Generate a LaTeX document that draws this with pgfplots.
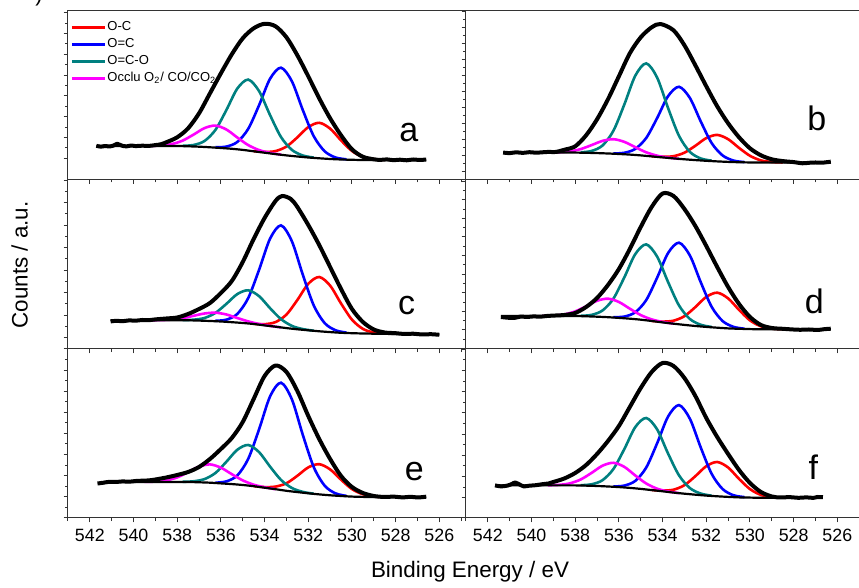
\documentclass[border=0pt]{standalone}
\usepackage{fontspec}
\setmainfont{Liberation Sans}
\usepackage{pgfplots}
\pgfplotsset{compat=1.18}
\definecolor{cred}{RGB}{255,0,0}
\definecolor{cblue}{RGB}{0,0,255}
\definecolor{cteal}{RGB}{0,128,128}
\definecolor{cmag}{RGB}{255,0,255}
\tikzset{lab/.style={font=\fontsize{17}{17}\selectfont, inner sep=0pt}}
\pgfplotsset{
  panel/.style={
    scale only axis, width=199pt, anchor=south west,
    xmin=524.78, xmax=543, x dir=reverse, ymin=0,
    xtick={526,528,...,542}, minor xtick={525,527,...,543},
    minor y tick num=1, yticklabels={},
    tick align=outside, xtick pos=left, ytick pos=left,
    major tick length=2.2pt, minor tick length=1.6pt,
    axis line style={line width=0.5pt, black!80},
    every tick/.append style={line width=0.5pt, black!80},
    /pgf/number format/assume math mode=true,
    tick label style={font=\fontsize{8.9}{10}\selectfont},
    no markers,
  },
  comp/.style={line width=1.3pt, smooth},
  bgl/.style={black, line width=1.1pt, smooth},
  raw/.style={black, line width=2.0pt, smooth, line join=round},
}
\begin{document}
\begin{tikzpicture}
\path[use as bounding box] (0,0) rectangle (429.5pt,294pt);

% ---------------- panel a ----------------
\begin{axis}[panel, at={(34pt,204.35pt)}, height=84.15pt, ymax=168.3, xticklabels={},
  ytick={21,41.8,62.6,83.4,104.2,125,145.8,166.6},
  legend style={at={(0,1)}, anchor=north west, xshift=1pt, yshift=-4.6pt, draw=none, fill=none,
    font=\fontsize{6.5}{7}\selectfont, row sep=1.35pt, inner sep=0pt,
    nodes={inner sep=0.5pt}, /tikz/every even column/.append style={column sep=1pt}},
  legend cell align=left,
  legend image code/.code={\draw[#1, line width=1.5pt] (0pt,0pt) -- (16.5pt,0pt);}]
\addplot[cred, comp] coordinates {(528.5,19.4)(529,20.1)(529.5,22.3)(530,28.3)(530.5,38.9)(531,50.7)(531.5,56.5)(532,52.2)(532.5,41.9)(533,32.7)(533.5,28.2)(534,27.3)(534.5,28.1)};
\addlegendentry{O-C}
\addplot[cblue, comp] coordinates {(530.25,19.95)(530.75,21.8)(531.25,28.0)(531.75,43.1)(532.25,69.2)(532.75,98.0)(533.25,111.6)(533.75,100.5)(534.25,74.2)(534.75,50.4)(535.25,37.3)(535.75,32.7)(536.25,32.0)};
\addlegendentry{O=C}
\addplot[cteal, comp] coordinates {(531.75,21.7)(532.25,23.8)(532.75,29.4)(533.25,42.3)(533.75,64.2)(534.25,88.1)(534.75,99.7)(535.25,90.7)(535.75,69.2)(536.25,49.4)(536.75,38.3)(537.25,34.3)(537.75,33.5)};
\addlegendentry{O=C-O}
\addplot[cmag, comp] coordinates {(533.25,24.7)(533.75,26.4)(534.25,29.2)(534.75,34.2)(535.25,41.8)(535.75,49.8)(536.25,53.7)(536.75,51.2)(537.25,44.7)(537.75,38.7)(538.25,35.2)(538.75,33.8)(539.25,33.4)};
\addlegendentry{Occlu O\textsubscript{2}/ CO/CO\textsubscript{2}}
\addplot[bgl, forget plot] coordinates {(541.7,33.3)(538.5,33.3)(538,33.3)(537.5,33.0)(537,32.6)(536.5,32.0)(536,31.3)(535.5,30.5)(535,29.4)(534.5,28.0)(534,26.6)(533.5,25.2)(533,23.9)(532.5,22.8)(532,21.8)(531.5,21.0)(531,20.3)(530.5,19.8)(530,19.5)(529.5,19.3)(528.5,19.3)(526.6,19.3)};
\addplot[raw, forget plot] coordinates {(541.7,33.5)(541.5,32.6)(541.3,33.3)(541.1,32.8)(540.9,33.9)(540.75,35.5)(540.5,33.4)(540.3,33.0)(540.1,33.8)(539.9,33.2)(539.6,33.6)(539.3,33.4)(539.0,34.2)(538.75,35.0)(538.5,37)(538,42)(537.5,51)(537,66)(536.5,86)(536,106)(535.5,125)(535,141)(534.5,151)(534,155.5)(533.5,153)(533,142)(532.5,124)(532,103)(531.5,81)(531,61)(530.5,44)(530,30)(529.5,22.5)(529,20)(528.7,19.4)(528.4,19.9)(528.1,19.1)(527.8,19.6)(527.5,19.0)(527.2,19.8)(526.9,19.3)(526.6,19.8)};
\node[lab] at (axis cs:527.4,46.6) {a};
\end{axis}

% ---------------- panel b ----------------
\begin{axis}[panel, at={(233pt,204.35pt)}, height=84.15pt, ymax=168.3, xticklabels={},
  ytick={7.6,23.6,39.6,55.6,71.6,87.6,103.6,119.6,135.6,151.6,167.6}]
\addplot[cred, comp] coordinates {(528.5,16.8)(529,17.3)(529.5,18.9)(530,23.5)(530.5,31.4)(531,40.1)(531.5,44.4)(532,41.2)(532.5,33.5)(533,26.6)(533.5,23.1)(534,22.5)(534.5,23.0)};
\addplot[cblue, comp] coordinates {(530.25,17.2)(530.75,18.7)(531.25,23.8)(531.75,36.1)(532.25,57.7)(532.75,81.3)(533.25,92.5)(533.75,83.1)(534.25,61.2)(534.75,41.3)(535.25,30.4)(535.75,26.5)(536.25,25.8)};
\addplot[cteal, comp] coordinates {(531.75,18.6)(532.25,20.8)(532.75,27.4)(533.25,43.5)(533.75,71.3)(534.25,101.7)(534.75,115.9)(535.25,103.6)(535.75,74.9)(536.25,48.6)(536.75,33.8)(537.25,28.3)(537.75,27.0)};
\addplot[cmag, comp] coordinates {(533.25,20.5)(533.75,21.7)(534.25,23.6)(534.75,27.0)(535.25,32.1)(535.75,37.4)(536.25,40.1)(536.75,38.4)(537.25,34.2)(537.75,30.2)(538.25,27.9)(538.75,27.0)(539.25,26.8)};
\addplot[bgl] coordinates {(541.3,26.7)(538.5,26.7)(538,26.7)(537.5,26.5)(537,26.2)(536.5,25.8)(536,25.3)(535.5,24.7)(535,23.9)(534.5,22.9)(534,21.9)(533.5,20.9)(533,20.0)(532.5,19.2)(532,18.5)(531.5,17.9)(531,17.4)(530.5,17.05)(530,16.85)(529.5,16.7)(528.5,16.7)(526.3,16.7)};
\addplot[raw] coordinates {(541.3,26.7)(541.0,26.2)(540.7,27.0)(540.4,26.4)(540.1,27.1)(539.8,26.6)(539.5,27.0)(539.2,27.4)(538.9,27.3)(538.5,29.5)(538,33)(537.5,44)(537,60)(536.5,80)(536,103)(535.5,126)(535,142)(534.5,152)(534.1,155.3)(533.5,149)(533,134)(532.5,114)(532,93)(531.5,73)(531,56)(530.5,42)(530,31)(529.5,24)(529,20)(528.5,18.2)(528,17.2)(527.6,16.0)(527.3,16.5)(527,16.8)(526.7,16.6)(526.3,17.6)};
\node[lab] at (axis cs:526.94,61) {b};
\end{axis}

% ---------------- panel c ----------------
\begin{axis}[panel, at={(34pt,119.5pt)}, height=84.85pt, ymax=169.7, xticklabels={},
  ytick={11.3,33.8,56.3,78.8,101.3,123.8,146.3,168.8}]
\addplot[cred, comp] coordinates {(528.5,15.5)(529,16.5)(529.5,20.1)(530,29.3)(530.5,45.5)(531,63.4)(531.5,72.0)(532,65.2)(532.5,49.0)(533,34.4)(533.5,26.9)(534,24.8)(534.5,25.2)};
\addplot[cblue, comp] coordinates {(530.25,16.4)(530.75,18.7)(531.25,25.9)(531.75,43.6)(532.25,74.2)(532.75,107.7)(533.25,123.6)(533.75,110.3)(534.25,79.3)(534.75,50.9)(535.25,35.0)(535.75,29.3)(536.25,28.2)};
\addplot[cteal, comp] coordinates {(531.75,18.3)(532.25,19.9)(532.75,23.1)(533.25,29.9)(533.75,40.8)(534.25,52.8)(534.75,58.7)(535.25,54.9)(535.75,45.1)(536.25,36.1)(536.75,31.0)(537.25,29.3)(537.75,28.8)};
\addplot[cmag, comp] coordinates {(533.25,21.6)(533.75,23.1)(534.25,25.0)(534.75,27.6)(535.25,31.0)(535.75,34.5)(536.25,36.3)(536.75,35.5)(537.25,33.2)(537.75,30.8)(538.25,29.4)(538.75,28.9)(539.25,28.7)};
\addplot[bgl] coordinates {(541.05,28.7)(538,28.7)(537.5,28.7)(537,28.4)(536.5,28.0)(536,27.5)(535.5,26.8)(535,26.0)(534.5,25.0)(534,23.6)(533.5,22.3)(533,20.9)(532.5,19.7)(532,18.7)(531.5,17.7)(531,16.9)(530.5,16.2)(530,15.8)(529.5,15.5)(529,15.3)(528,15.0)(526,14.6)};
\addplot[raw] coordinates {(541.05,27.5)(540.8,28.2)(540.5,27.8)(540.2,28.6)(539.9,28.3)(539.6,29.0)(539.3,28.8)(539.0,29.6)(538.5,30.5)(538,31.5)(537.5,35)(537,40)(536.5,46)(536,56)(535.5,68)(535,87)(534.5,110)(534,131)(533.5,148)(533.2,153)(532.8,150)(532.5,142)(532,124)(531.5,104)(531,82)(530.5,60)(530,40)(529.5,27)(529,19.5)(528.5,16.5)(528,15.8)(527.6,15.0)(527.2,15.3)(526.8,14.5)(526.4,14.8)(526.0,14.2)};
\node[lab] at (axis cs:527.5,43) {c};
\end{axis}

% ---------------- panel d ----------------
\begin{axis}[panel, at={(233pt,119.5pt)}, height=84.85pt, ymax=169.7, xticklabels={},
  ytick={0.4,19,37.6,56.2,74.8,93.4,112,130.6,149.2,167.8}]
\addplot[cred, comp] coordinates {(528.5,19.8)(529,20.4)(529.5,22.7)(530,28.6)(530.5,39.1)(531,50.6)(531.5,56.3)(532,52.1)(532.5,41.9)(533,32.8)(533.5,28.3)(534,27.4)(534.5,28.1)};
\addplot[cblue, comp] coordinates {(530.25,20.3)(530.75,22.1)(531.25,27.9)(531.75,42.0)(532.25,66.6)(532.75,93.5)(533.25,106.3)(533.75,95.9)(534.25,71.3)(534.75,48.9)(535.25,36.7)(535.75,32.4)(536.25,31.8)};
\addplot[cteal, comp] coordinates {(531.75,22.0)(532.25,24.2)(532.75,30.0)(533.25,43.6)(533.75,67.0)(534.25,92.4)(534.75,104.6)(535.25,94.9)(535.75,71.7)(536.25,50.4)(536.75,38.5)(537.25,34.1)(537.75,33.2)};
\addplot[cmag, comp] coordinates {(533.5,25.4)(534,27.0)(534.5,29.6)(535,33.9)(535.5,40.3)(536,47.0)(536.5,50.3)(537,48.2)(537.5,42.7)(538,37.6)(538.5,34.6)(539,33.4)(539.5,33.1)};
\addplot[bgl] coordinates {(541.4,33.0)(538.5,33.0)(538,33.0)(537.5,32.7)(537,32.3)(536.5,31.8)(536,31.1)(535.5,30.3)(535,29.3)(534.5,28.0)(534,26.6)(533.5,25.3)(533,24.1)(532.5,23.0)(532,22.1)(531.5,21.3)(531,20.6)(530.5,20.2)(530,19.9)(529.5,19.7)(528.5,19.7)(526.3,19.7)};
\addplot[raw] coordinates {(541.4,32.0)(541.1,31.3)(540.8,31.0)(540.5,32.4)(540.2,32.0)(539.9,32.6)(539.6,32.3)(539.3,33.0)(539.0,33.4)(538.5,34)(538,36)(537.5,42)(537,51)(536.5,64)(536,80)(535.5,100)(535,122)(534.5,142)(534,155.5)(533.5,153)(533,140)(532.5,123)(532,103)(531.5,82)(531,62)(530.5,45)(530,32)(529.5,24)(529,21)(528.5,20.2)(528.1,19.6)(527.7,19.2)(527.3,19.5)(526.9,19.0)(526.6,19.8)(526.3,20.3)};
\node[lab] at (axis cs:527.05,48) {d};
\end{axis}

% ---------------- panel e ----------------
\begin{axis}[panel, at={(34pt,35pt)}, height=84.5pt, ymax=169,
  ytick={0.2,21.3,42.4,63.5,84.6,105.7,126.8,147.9,169}]
\addplot[cred, comp] coordinates {(528.5,21.0)(529,21.5)(529.5,23.7)(530,28.9)(530.5,38.3)(531,48.6)(531.5,53.8)(532,50.6)(532.5,42.2)(533,34.7)(533.5,31.4)(534,30.9)(534.5,31.9)};
\addplot[cblue, comp] coordinates {(530.25,22.1)(530.75,24.6)(531.25,32.3)(531.75,50.9)(532.25,83.1)(532.75,118.6)(533.25,135.3)(533.75,121.5)(534.25,88.8)(534.75,59.1)(535.25,42.5)(535.75,36.6)(536.25,35.3)};
\addplot[cteal, comp] coordinates {(531.75,24.3)(532.25,26.1)(532.75,30.0)(533.25,38.1)(533.75,51.4)(534.25,65.8)(534.75,73.0)(535.25,68.2)(535.75,56.2)(536.25,45.0)(536.75,38.9)(537.25,36.7)(537.75,36.2)};
\addplot[cmag, comp] coordinates {(533.5,28.8)(534,30.7)(534.5,33.3)(535,37.6)(535.5,43.8)(536,50.3)(536.5,53.6)(537,51.4)(537.5,45.9)(538,40.6)(538.5,37.6)(539,36.4)(539.5,36.1)};
\addplot[bgl] coordinates {(541.1,36.0)(538,36.0)(537.5,36.0)(537,35.7)(536.5,35.3)(536,34.6)(535.5,33.9)(535,33.0)(534.5,31.8)(534,30.3)(533.5,28.8)(533,27.2)(532.5,25.9)(532,24.7)(531.5,23.6)(531,22.7)(530.5,22.0)(530,21.4)(529.5,21.1)(529,20.9)(528,20.9)(526.6,20.9)};
\addplot[raw] coordinates {(541.65,34.5)(541.4,35.2)(541.1,36.2)(540.8,36.0)(540.5,36.6)(540.2,36.3)(539.9,37.0)(539.6,37.3)(539.3,37.6)(539.0,38.5)(538.5,40.5)(538,43)(537.5,46)(537,51)(536.5,59)(536,69)(535.5,80)(535,96)(534.5,119)(534,142)(533.5,152.5)(533,146)(532.5,127)(532,102)(531.5,79)(531,59)(530.5,42)(530,31)(529.5,25)(529,22)(528.5,21)(528.1,21.4)(527.7,20.6)(527.3,21.2)(527.0,20.5)(526.6,21.3)};
\node[lab] at (axis cs:527.15,46) {e};
\end{axis}

% ---------------- panel f ----------------
\begin{axis}[panel, at={(233pt,35pt)}, height=84.5pt, ymax=169,
  ytick={20.2,41.4,62.6,83.8,105,126.2,147.4,168.6}]
\addplot[cred, comp] coordinates {(528.5,20.3)(529,20.9)(529.5,23.1)(530,28.9)(530.5,39.1)(531,50.5)(531.5,56.0)(532,51.8)(532.5,41.8)(533,32.8)(533.5,28.3)(534,27.4)(534.5,28.0)};
\addplot[cblue, comp] coordinates {(530.25,20.9)(530.75,22.7)(531.25,28.9)(531.75,44.0)(532.25,70.3)(532.75,99.2)(533.25,112.9)(533.75,101.4)(534.25,74.7)(534.75,50.4)(535.25,37.1)(535.75,32.4)(536.25,31.5)};
\addplot[cteal, comp] coordinates {(531.75,22.3)(532.25,24.4)(532.75,29.9)(533.25,42.7)(533.75,64.5)(534.25,88.6)(534.75,100.0)(535.25,90.9)(535.75,69.0)(536.25,49.0)(536.75,37.8)(537.25,33.7)(537.75,32.8)};
\addplot[cmag, comp] coordinates {(533.25,24.9)(533.75,26.5)(534.25,29.3)(534.75,34.5)(535.25,42.5)(535.75,51.1)(536.25,55.2)(536.75,52.3)(537.25,45.1)(537.75,38.5)(538.25,34.6)(538.75,33.1)(539.25,32.7)};
\addplot[bgl] coordinates {(541.67,32.6)(538.5,32.6)(538,32.6)(537.5,32.35)(537,32.0)(536.5,31.5)(536,30.9)(535.5,30.1)(535,29.1)(534.5,27.9)(534,26.7)(533.5,25.4)(533,24.3)(532.5,23.3)(532,22.4)(531.5,21.7)(531,21.1)(530.5,20.6)(530,20.4)(529.5,20.2)(528.5,20.2)(526.66,20.2)};
\addplot[raw] coordinates {(541.67,32.6)(541.4,31.6)(541.1,32.4)(540.9,34.0)(540.75,35.5)(540.55,33.5)(540.35,31.6)(540.1,32.3)(539.8,32.8)(539.5,33.8)(539.2,34.6)(539.0,36)(538.5,39.5)(538,45)(537.5,53)(537,64)(536.5,77)(536,92)(535.5,111)(535,130)(534.5,146)(534,155)(533.5,152)(533,140)(532.5,122)(532,100)(531.5,81)(531,64)(530.5,48)(530,35)(529.5,26)(529,21.5)(528.6,20.5)(528.2,20.9)(527.8,20.2)(527.4,20.6)(527.1,20.1)(526.9,21.0)(526.66,20.8)};
\node[lab] at (axis cs:527.1,51) {f};
\end{axis}

\node[font=\fontsize{11.2}{13}\selectfont] at (235pt,8pt) {Binding Energy / eV};
\node[font=\fontsize{11.2}{13}\selectfont, rotate=90] at (9.75pt,161.5pt) {Counts / a.u.};
\node[anchor=base, font=\fontsize{11}{11}\selectfont, inner sep=0pt] at (19.5pt,293pt) {)};
\end{tikzpicture}
\end{document}
